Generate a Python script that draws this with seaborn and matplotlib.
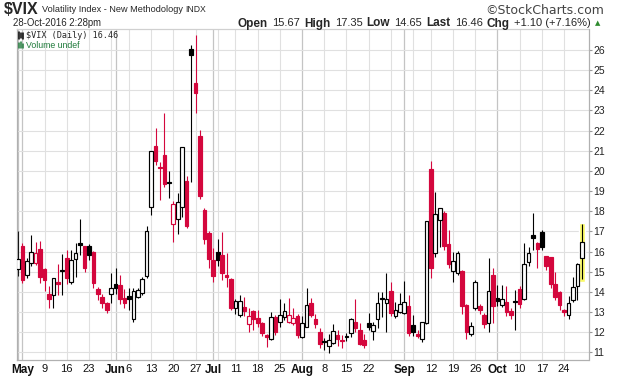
import numpy as np
import pandas as pd
import matplotlib
matplotlib.use("Agg")
import matplotlib.pyplot as plt
from matplotlib.lines import Line2D
import seaborn as sns

# trading days 29-Apr-2016 .. 28-Oct-2016 (no Memorial day, Jul 4, Labor day)
holidays = ["2016-05-30", "2016-07-04", "2016-09-05"]
dates = pd.bdate_range("2016-04-29", "2016-10-28").drop(pd.to_datetime(holidays))

opens = [15.12, 16.27, 14.82, 15.41, 15.43, 16.13, 15.13, 13.89, 13.84, 14.50,
         15.08, 15.66, 14.47, 15.64, 16.40, 16.27, 16.27, 16.00, 14.14, 13.73,
         13.46, 13.89, 14.39, 14.34, 13.71, 13.79, 12.65, 13.76, 13.93, 14.78,
         18.19, 21.24, 20.21, 20.79, 19.45, 17.35, 17.60, 18.19, 19.50, 26.05,
         24.38, 21.73, 18.06, 16.90, 15.58, 15.98, 15.83, 14.78, 14.62, 13.18,
         12.83, 13.26, 12.40, 13.05, 12.68, 12.44, 11.86, 11.64, 12.77, 12.52,
         12.73, 12.52, 12.44, 12.80, 11.77, 12.27, 13.46, 12.63, 12.02, 11.52,
         11.31, 11.44, 11.86, 11.57, 11.75, 11.94, 12.52, 12.10, 11.60, 12.44,
         12.06, 12.63, 13.66, 13.46, 14.04, 12.80, 13.01, 12.97, 13.30, 12.35,
         11.88, 11.64, 12.44, 20.09, 15.91, 17.56, 17.93, 16.36, 15.05, 14.92,
         15.03, 13.34, 11.89, 13.18, 13.29, 12.85, 12.44, 14.83, 13.68, 13.34,
         13.51, 13.05, 13.50, 14.12, 13.63, 15.46, 16.82, 16.40, 16.98, 15.78,
         15.71, 14.39, 14.01, 13.10, 12.85, 13.59, 14.29, 15.67]
highs = [17.02, 16.41, 15.70, 16.82, 16.49, 16.52, 15.20, 14.29, 14.70, 15.36,
         15.90, 16.10, 16.10, 16.41, 17.61, 16.30, 16.35, 16.05, 14.25, 13.90,
         13.50, 14.92, 15.20, 14.83, 14.12, 14.20, 14.20, 14.20, 14.75, 17.27,
         20.99, 22.14, 20.46, 22.89, 19.99, 18.50, 18.90, 21.20, 19.75, 26.25,
         26.74, 22.03, 18.17, 17.00, 16.20, 16.60, 16.95, 15.91, 14.67, 13.63,
         13.84, 13.76, 13.18, 13.10, 13.10, 12.52, 11.90, 13.00, 12.85, 13.63,
         13.46, 13.68, 13.21, 12.90, 12.80, 14.17, 13.70, 12.90, 12.19, 11.69,
         11.89, 12.39, 12.10, 11.86, 11.95, 12.68, 13.64, 12.44, 11.90, 12.93,
         12.52, 14.01, 14.01, 14.92, 14.50, 13.51, 13.92, 14.54, 13.84, 12.85,
         12.10, 12.52, 17.53, 20.49, 18.97, 18.14, 18.01, 17.07, 15.99, 16.02,
         15.10, 13.40, 12.49, 14.59, 13.40, 12.95, 15.66, 15.16, 14.34, 14.34,
         14.30, 13.20, 14.09, 14.30, 16.40, 16.21, 17.93, 16.45, 17.07, 15.80,
         15.75, 15.00, 14.05, 13.15, 13.79, 14.75, 15.41, 17.35]
lows = [14.78, 14.42, 14.70, 15.30, 15.33, 14.46, 14.06, 13.18, 13.20, 13.84,
        13.84, 14.39, 14.39, 14.75, 15.83, 15.00, 15.60, 14.20, 13.60, 13.20,
        12.93, 13.43, 13.90, 13.40, 13.20, 13.10, 12.50, 13.70, 13.85, 14.70,
        17.81, 20.30, 18.56, 19.18, 18.64, 16.49, 16.85, 17.73, 17.18, 19.43,
        22.89, 18.60, 16.37, 15.20, 14.50, 15.30, 14.59, 14.25, 13.10, 12.90,
        12.73, 12.80, 12.02, 12.10, 12.27, 11.80, 11.28, 11.60, 11.85, 12.24,
        12.60, 12.45, 12.35, 11.70, 11.70, 12.24, 12.75, 12.20, 11.24, 11.11,
        10.95, 11.40, 11.31, 11.23, 11.55, 11.77, 12.00, 11.35, 11.20, 12.10,
        11.60, 12.19, 12.77, 12.02, 12.80, 12.70, 12.95, 12.90, 11.80, 11.80,
        11.70, 11.53, 12.40, 14.67, 15.74, 16.24, 16.10, 15.20, 14.50, 14.85,
        12.88, 11.64, 11.82, 13.10, 12.90, 12.20, 12.02, 12.44, 13.30, 13.25,
        12.80, 12.65, 12.10, 13.20, 13.60, 15.30, 16.07, 15.16, 16.07, 15.10,
        14.20, 13.60, 13.10, 12.80, 12.64, 13.50, 13.59, 14.65]
closes = [15.65, 14.60, 15.53, 15.96, 15.92, 14.72, 14.57, 13.63, 14.69, 14.41,
          15.04, 14.68, 15.57, 15.95, 16.33, 15.20, 15.82, 14.42, 13.90, 13.43,
          13.12, 14.19, 14.20, 13.63, 13.47, 13.65, 14.05, 14.08, 14.64, 17.03,
          20.97, 20.50, 20.14, 19.37, 19.41, 18.37, 18.48, 21.17, 17.25, 25.76,
          23.85, 18.75, 16.64, 15.63, 14.77, 15.58, 14.96, 14.76, 13.20, 13.54,
          13.55, 13.04, 12.82, 12.67, 12.44, 11.97, 11.77, 12.74, 12.02, 12.87,
          13.05, 12.83, 12.72, 11.87, 12.44, 13.37, 12.86, 12.42, 11.39, 11.50,
          11.60, 12.05, 11.68, 11.55, 11.81, 12.64, 12.19, 11.43, 11.34, 12.27,
          12.38, 13.45, 13.63, 13.65, 12.94, 13.12, 13.42, 13.48, 11.98, 12.02,
          11.83, 12.51, 17.50, 15.16, 17.85, 18.14, 16.30, 15.37, 15.53, 15.92,
          13.30, 12.02, 12.29, 14.50, 13.10, 12.39, 14.02, 13.29, 13.57, 13.63,
          12.99, 12.84, 13.48, 13.38, 15.36, 15.91, 16.69, 16.12, 16.21, 15.28,
          14.41, 13.75, 13.34, 13.02, 13.46, 14.24, 15.36, 16.46]

RED = "#d4073d"
GREEN = "#1f7a3a"
W, H = 620, 376

df = pd.DataFrame({"date": dates, "open": opens, "high": highs, "low": lows, "close": closes})
df["i"] = np.arange(len(df))
prev = df["close"].shift(1).fillna(0)
df["color"] = np.where(df["close"] >= prev, "black", RED)
df["hollow"] = df["close"] >= df["open"]

sns.set_theme(style="white")
plt.rcParams["font.family"] = ["Liberation Sans", "DejaVu Sans"]

fig = plt.figure(figsize=(W / 100, H / 100), dpi=100)
ax = fig.add_axes([16.7 / W, 1 - 360 / H, (588.5 - 16.7) / W, (360 - 29) / H])

# gridlines: weekly (light) and month starts (darker)
week_start = df["date"].dt.isocalendar().week.astype(int).diff().fillna(1) != 0
month_start = df["date"].dt.month.diff().fillna(1) != 0
for i in df.index[week_start & ~month_start]:
    ax.axvline(i, color="#e0e0e0", lw=0.8, zorder=0)
for i in df.index[month_start]:
    ax.axvline(i, color="#c4c4c4", lw=0.9, zorder=0)
for v in range(11, 27):
    ax.axhline(v, color="#e0e0e0", lw=0.8, zorder=0)

# last-bar highlight
last = df.iloc[-1]
ax.bar(last["i"], last["high"] - last["low"] + 0.2, bottom=last["low"] - 0.15,
       width=1.5, color="#fafa66", zorder=1)

# wicks
ax.vlines(df["i"], df["low"], df["high"], colors=df["color"], lw=0.8, zorder=2)

# bodies
body = (df["close"] - df["open"]).abs().clip(lower=0.06)
bottom = df[["open", "close"]].min(axis=1)
for hol, sub in df.groupby("hollow"):
    face = ["white"] * len(sub) if hol else list(sub["color"])
    ax.bar(sub["i"], body[sub.index], bottom=bottom[sub.index], width=0.82,
           color=face, edgecolor=list(sub["color"]), linewidth=0.85, zorder=3)

ax.set_xlim(-0.27, 128.5)
ax.set_ylim(10.62, 27.04)

# x labels
tick_days = {"May": 1, "Jun": 22, "Jul": 44, "Aug": 64, "Sep": 87, "Oct": 108}
day_labels = ["9", "16", "23", "6", "13", "20", "27", "11", "18", "25",
              "8", "15", "22", "12", "19", "26", "10", "17", "24"]
day_pos = [6, 11, 16, 25, 30, 35, 40, 49, 54, 59, 69, 74, 79, 93, 98, 103, 113, 118, 123]
xt = list(tick_days.values()) + day_pos
xl = list(tick_days.keys()) + day_labels
ax.set_xticks(xt, xl)
for t in ax.get_xticklabels():
    if t.get_text() in tick_days:
        t.set_fontweight("bold")
        t.set_fontsize(8.5)
    else:
        t.set_fontsize(8)
ax.set_xticks(df["i"], minor=True)
ax.tick_params(axis="x", which="major", length=0, pad=3, colors="#111111")
ax.tick_params(axis="x", which="minor", length=2, color="#999999", width=0.6)

ax.yaxis.tick_right()
ax.set_yticks(range(11, 27))
ax.tick_params(axis="y", length=2.5, color="#999999", width=0.8, labelsize=7.5,
               pad=0.8, labelcolor="#222222")

sns.despine(ax=ax, top=False, right=False, left=False, bottom=False)
for s in ax.spines.values():
    s.set_color("#b0b0b0")
    s.set_linewidth(0.9)
ax.spines["top"].set_color("#d0d0d0")


def fx(x):
    return x / W


def fy(y):
    return 1 - y / H


renderer = fig.canvas.get_renderer()


def chain(parts, x0, y, gap=3):
    x = x0
    for s, kw in parts:
        t = fig.text(fx(x), fy(y), s, ha="left", va="center", **kw)
        x = t.get_window_extent(renderer).x1 + gap


chain([(r"\$VIX", dict(fontsize=11.5, fontweight="bold")),
       ("Volatility Index - New Methodology", dict(fontsize=6.6)),
       ("INDX", dict(fontsize=6.2))], 4, 10)
fig.text(fx(604), fy(10.5), "\u00a9StockCharts.com", ha="right", va="center",
         fontsize=9, color="#444444", family="DejaVu Sans")
fig.text(fx(13), fy(23.5), "28-Oct-2016 2:28pm", ha="left", va="center", fontsize=6.9)
chain([("Open", dict(fontsize=8.5, fontweight="bold")), ("15.67", dict(fontsize=8)),
       ("High", dict(fontsize=8.5, fontweight="bold")), ("17.35", dict(fontsize=8)),
       ("Low", dict(fontsize=8.5, fontweight="bold")), ("14.65", dict(fontsize=8)),
       ("Last", dict(fontsize=8.5, fontweight="bold")), ("16.46", dict(fontsize=8)),
       ("Chg", dict(fontsize=8.5, fontweight="bold")), ("+1.10 (+7.16%)", dict(fontsize=8)),
       ("\u25b2", dict(fontsize=5, color="#2e8b2e", family="DejaVu Sans"))], 238, 23.5,
      gap=4.2)

fig.text(fx(26), fy(35.5), r"\$VIX (Daily) 16.46", ha="left", va="center",
         fontsize=6.1, family="DejaVu Sans Mono")
fig.text(fx(26), fy(45), "Volume undef", ha="left", va="center",
         fontsize=6.3, color=GREEN)

# small legend glyphs: candle icon and volume bars
for x, y0, y1, c in [(18.5, 32, 39, "black"), (20.5, 33, 38, "black"), (22.5, 32.5, 38.5, "black"),
                     (18.5, 43, 48, GREEN), (20.5, 41.5, 48, GREEN), (22.5, 44, 48, GREEN)]:
    fig.add_artist(Line2D([fx(x), fx(x)], [fy(y0), fy(y1)], color=c, lw=1.1,
                          transform=fig.transFigure))

fig.savefig("out.png", dpi=100)
